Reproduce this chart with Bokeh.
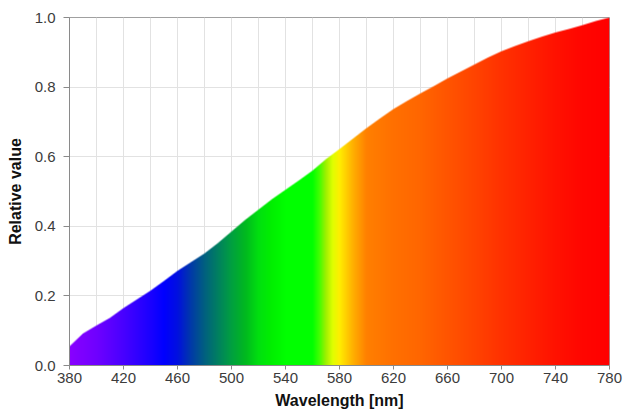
import numpy as np
from bokeh.plotting import figure
from bokeh.models import FixedTicker, PrintfTickFormatter, Range1d
from bokeh.embed import file_html
from bokeh.resources import INLINE

# ---- data ----
wavelength = [380, 390, 400, 410, 420, 430, 440, 450, 460, 470, 480, 490, 500,
              510, 520, 530, 540, 550, 560, 570, 580, 590, 600, 610, 620, 630,
              640, 650, 660, 670, 680, 690, 700, 710, 720, 730, 740, 750, 760,
              770, 780]
relative_value = [0.055, 0.092, 0.115, 0.137, 0.165, 0.190, 0.215, 0.243, 0.272,
                  0.297, 0.322, 0.352, 0.385, 0.418, 0.448, 0.478, 0.505, 0.532,
                  0.560, 0.593, 0.622, 0.652, 0.682, 0.710, 0.737, 0.760, 0.782,
                  0.803, 0.825, 0.845, 0.865, 0.885, 0.903, 0.918, 0.932, 0.945,
                  0.957, 0.967, 0.978, 0.990, 1.000]

x_ticks = [380, 420, 460, 500, 540, 580, 620, 660, 700, 740, 780]
x_grid = [380, 400, 420, 440, 460, 480, 500, 520, 540, 560, 580, 600, 620, 640,
          660, 680, 700, 720, 740, 760, 780]
y_ticks = [0.0, 0.2, 0.4, 0.6, 0.8, 1.0]

# spectral colour stops
stop_wl = [380, 400, 420, 440, 450, 460, 470, 480, 490, 500, 510, 520, 530, 540,
           560, 565, 570, 575, 580, 590, 600, 620, 640, 660, 680, 700, 720, 740,
           760, 780]
stop_color = ["#8a00ff", "#7000ff", "#4800ff", "#1a00ff", "#0000ff", "#0010e0",
              "#003aa8", "#006080", "#008060", "#00a040", "#00b820", "#00e010",
              "#00f000", "#00ff00", "#00ff00", "#40ff00", "#a0f000", "#e0ff00",
              "#ffee00", "#ffb000", "#ff8000", "#ff7000", "#ff6600", "#ff5500",
              "#ff4400", "#ff3200", "#ff2200", "#ff1200", "#ff0600", "#ff0000"]

# ---- figure ----
p = figure(width=626, height=416, output_backend="svg", toolbar_location=None,
           x_range=Range1d(380, 780), y_range=Range1d(0, 1),
           min_border_left=69, min_border_right=17, min_border_top=17,
           min_border_bottom=51)
p.background_fill_color = "white"
p.border_fill_color = "white"
p.outline_line_color = "#a0a0a0"
p.outline_line_width = 1

# ---- spectral area as an image masked by the curve ----
cols, rows = 540, 348
lam_c = 380 + (np.arange(cols) + 0.5) * 400.0 / cols
curve = np.interp(lam_c, wavelength, relative_value)
v_r = (np.arange(rows) + 0.5) / rows

def hex_rgb(h):
    return [int(h[i:i + 2], 16) for i in (1, 3, 5)]

rgb_stops = np.array([hex_rgb(c) for c in stop_color], dtype=float)
r = np.interp(lam_c, stop_wl, rgb_stops[:, 0])
g = np.interp(lam_c, stop_wl, rgb_stops[:, 1])
b = np.interp(lam_c, stop_wl, rgb_stops[:, 2])

alpha = np.clip((curve[None, :] - v_r[:, None]) * rows + 0.5, 0, 1) * 255
img = np.empty((rows, cols), dtype=np.uint32)
view = img.view(dtype=np.uint8).reshape((rows, cols, 4))
view[:, :, 0] = r[None, :].astype(np.uint8)
view[:, :, 1] = g[None, :].astype(np.uint8)
view[:, :, 2] = b[None, :].astype(np.uint8)
view[:, :, 3] = alpha.astype(np.uint8)

p.image_rgba(image=[img], x=380, y=0, dw=400, dh=1)

# ---- axes & grid ----
FONT = "Liberation Sans"
p.xaxis.ticker = FixedTicker(ticks=x_ticks)
p.yaxis.ticker = FixedTicker(ticks=y_ticks)
p.yaxis.formatter = PrintfTickFormatter(format="%.1f")
p.xgrid.ticker = FixedTicker(ticks=x_grid)
p.ygrid.ticker = FixedTicker(ticks=y_ticks)
p.grid.grid_line_color = "#e2e2e2"
p.grid.grid_line_width = 1

p.xaxis.axis_label = "Wavelength [nm]"
p.yaxis.axis_label = "Relative value"
for ax in (p.xaxis, p.yaxis):
    ax.axis_label_text_font = FONT
    ax.axis_label_text_font_style = "bold"
    ax.axis_label_text_font_size = "16px"
    ax.axis_label_text_color = "#111111"
    ax.major_label_text_font = FONT
    ax.major_label_text_font_size = "15px"
    ax.major_label_text_color = "#3c3c3c"
    ax.axis_line_color = "#8a8a8a"
    ax.major_tick_line_color = "#8a8a8a"
    ax.minor_tick_line_color = None
    ax.major_tick_in = 0

p.xaxis.major_tick_out = 4
p.xaxis.major_label_standoff = 3
p.xaxis.axis_label_standoff = 6
p.yaxis.major_tick_out = 6
p.yaxis.major_label_standoff = 8
p.yaxis.axis_label_standoff = 8

open("out.html", "w").write(file_html(p, INLINE))
